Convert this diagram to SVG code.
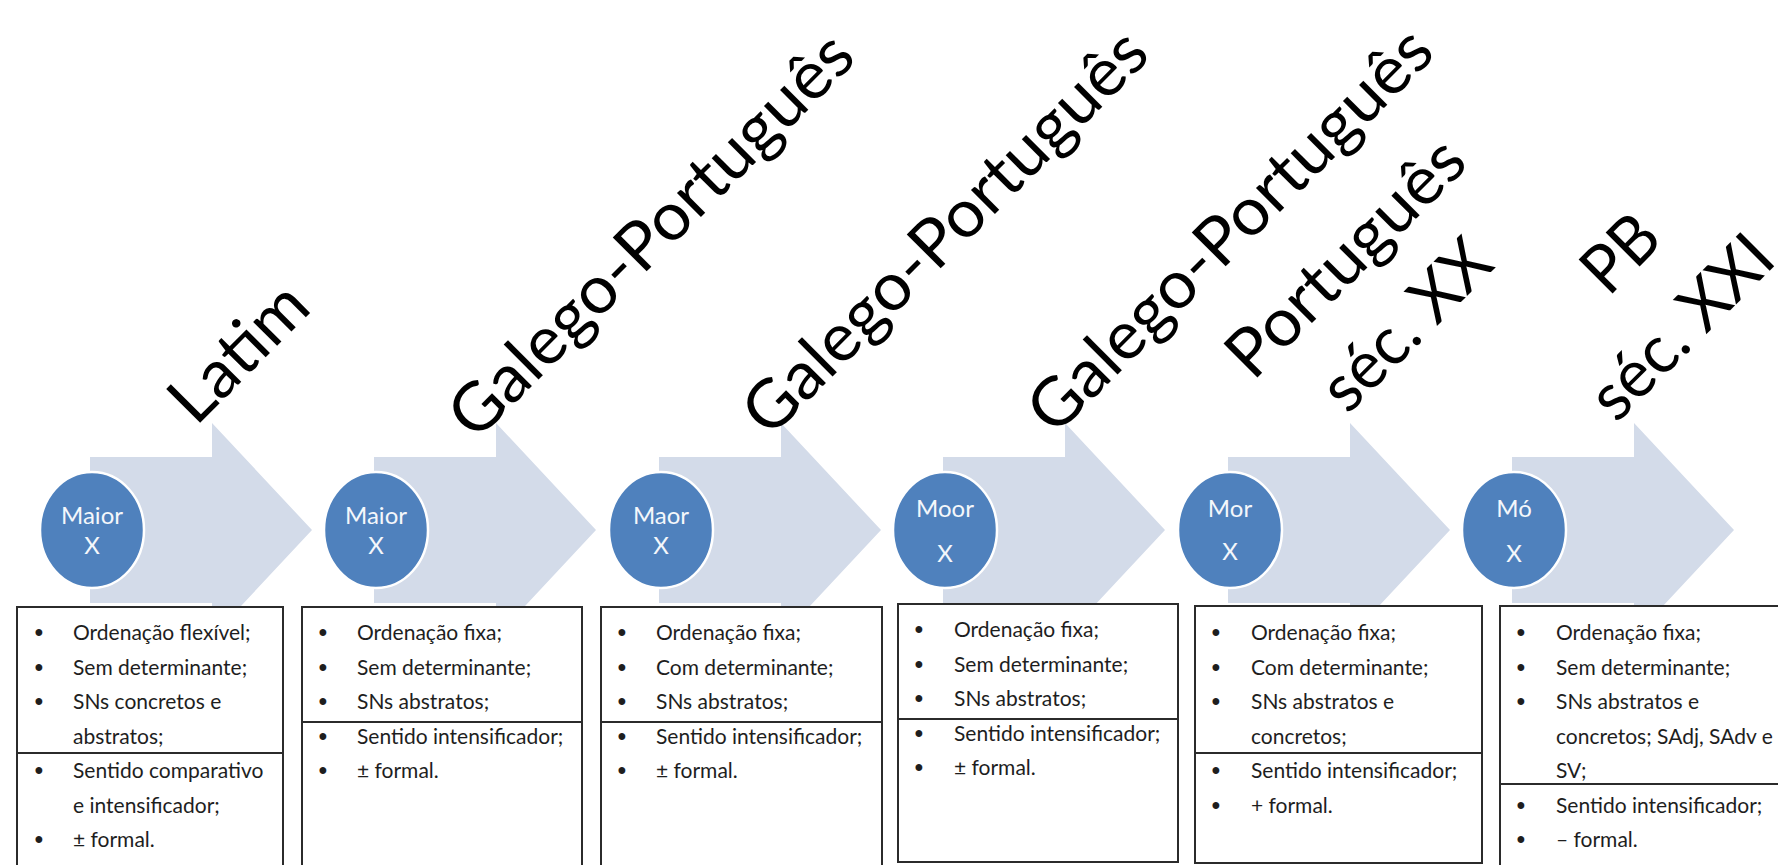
<svg xmlns="http://www.w3.org/2000/svg" width="1778" height="865" viewBox="0 0 1778 865">
<style>
.arrow{fill:#d3dbe9;stroke:none}
.dot{fill:#4f81bd;stroke:#ffffff;stroke-width:2.5}
.dl{font-family:Lato,"Liberation Sans",sans-serif;font-size:24px;fill:#f4f7fb;text-anchor:middle}
.title{font-family:Lato,"Liberation Sans",sans-serif;font-size:67px;fill:#000000;text-anchor:middle}
.box{fill:#ffffff;stroke:#2b2b2b;stroke-width:2}
.div{stroke:#2b2b2b;stroke-width:2}
.t{font-family:Lato,"Liberation Sans",sans-serif;font-size:21px;fill:#1e1e1e}
.b{font-family:"Liberation Sans",sans-serif;font-size:25px;fill:#1e1e1e;text-anchor:middle}
</style>
<g id="connectors">
<path class="arrow" d="M90,457 H212 V423 L312,530 L212,637 V603 H90 Z"/>
<path class="arrow" d="M374,457 H496 V423 L596,530 L496,637 V603 H374 Z"/>
<path class="arrow" d="M659,457 H781 V423 L881,530 L781,637 V603 H659 Z"/>
<path class="arrow" d="M943,457 H1065 V423 L1165,530 L1065,637 V603 H943 Z"/>
<path class="arrow" d="M1228,457 H1350 V423 L1450,530 L1350,637 V603 H1228 Z"/>
<path class="arrow" d="M1512,457 H1634 V423 L1734,530 L1634,637 V603 H1512 Z"/>
</g>
<g id="stage-1">
<text class="title" transform="translate(254.5,368.5) rotate(-45)" textLength="166" lengthAdjust="spacingAndGlyphs">Latim</text>
<ellipse class="dot" cx="92" cy="530" rx="52" ry="58"/>
<text class="dl" x="92" y="524">Maior</text>
<text class="dl" x="92" y="554">X</text>
<rect class="box" x="17" y="607" width="266" height="270"/>
<line class="div" x1="17" y1="753" x2="283" y2="753"/>
<text class="b" x="39" y="641">•</text><text class="t" x="73" y="640">Ordenação flexível;</text>
<text class="b" x="39" y="675.5">•</text><text class="t" x="73" y="674.5">Sem determinante;</text>
<text class="b" x="39" y="710">•</text><text class="t" x="73" y="709">SNs concretos e</text>
<text class="t" x="73" y="743.5">abstratos;</text>
<text class="b" x="39" y="779">•</text><text class="t" x="73" y="778">Sentido comparativo</text>
<text class="t" x="73" y="812.5">e intensificador;</text>
<text class="b" x="39" y="848">•</text><text class="t" x="73" y="847">± formal.</text>
</g>
<g id="stage-2">
<text class="title" transform="translate(667,251) rotate(-45)" textLength="541" lengthAdjust="spacingAndGlyphs">Galego-Português</text>
<ellipse class="dot" cx="376" cy="530" rx="52" ry="58"/>
<text class="dl" x="376" y="524">Maior</text>
<text class="dl" x="376" y="554">X</text>
<rect class="box" x="302" y="607" width="280" height="270"/>
<line class="div" x1="302" y1="722" x2="582" y2="722"/>
<text class="b" x="323" y="641">•</text><text class="t" x="357" y="640">Ordenação fixa;</text>
<text class="b" x="323" y="675.5">•</text><text class="t" x="357" y="674.5">Sem determinante;</text>
<text class="b" x="323" y="710">•</text><text class="t" x="357" y="709">SNs abstratos;</text>
<text class="b" x="323" y="744.5">•</text><text class="t" x="357" y="743.5">Sentido intensificador;</text>
<text class="b" x="323" y="779">•</text><text class="t" x="357" y="778">± formal.</text>
</g>
<g id="stage-3">
<text class="title" transform="translate(961,248) rotate(-45)" textLength="541" lengthAdjust="spacingAndGlyphs">Galego-Português</text>
<ellipse class="dot" cx="661" cy="530" rx="52" ry="58"/>
<text class="dl" x="661" y="524">Maor</text>
<text class="dl" x="661" y="554">X</text>
<rect class="box" x="601" y="607" width="281" height="270"/>
<line class="div" x1="601" y1="722" x2="882" y2="722"/>
<text class="b" x="622" y="641">•</text><text class="t" x="656" y="640">Ordenação fixa;</text>
<text class="b" x="622" y="675.5">•</text><text class="t" x="656" y="674.5">Com determinante;</text>
<text class="b" x="622" y="710">•</text><text class="t" x="656" y="709">SNs abstratos;</text>
<text class="b" x="622" y="744.5">•</text><text class="t" x="656" y="743.5">Sentido intensificador;</text>
<text class="b" x="622" y="779">•</text><text class="t" x="656" y="778">± formal.</text>
</g>
<g id="stage-4">
<text class="title" transform="translate(1246,246) rotate(-45)" textLength="541" lengthAdjust="spacingAndGlyphs">Galego-Português</text>
<ellipse class="dot" cx="945" cy="530" rx="52" ry="58"/>
<text class="dl" x="945" y="517">Moor</text>
<text class="dl" x="945" y="562">X</text>
<rect class="box" x="898" y="604" width="280" height="258"/>
<line class="div" x1="898" y1="719" x2="1178" y2="719"/>
<text class="b" x="919" y="638">•</text><text class="t" x="954" y="637">Ordenação fixa;</text>
<text class="b" x="919" y="672.5">•</text><text class="t" x="954" y="671.5">Sem determinante;</text>
<text class="b" x="919" y="707">•</text><text class="t" x="954" y="706">SNs abstratos;</text>
<text class="b" x="919" y="741.5">•</text><text class="t" x="954" y="740.5">Sentido intensificador;</text>
<text class="b" x="919" y="776">•</text><text class="t" x="954" y="775">± formal.</text>
</g>
<g id="stage-5">
<text class="title" transform="translate(1361.5,273.5) rotate(-45)" textLength="307" lengthAdjust="spacingAndGlyphs">Português</text>
<text class="title" transform="translate(1422,341) rotate(-45)" textLength="210" lengthAdjust="spacingAndGlyphs">séc. XX</text>
<ellipse class="dot" cx="1230" cy="530" rx="52" ry="58"/>
<text class="dl" x="1230" y="517">Mor</text>
<text class="dl" x="1230" y="560">X</text>
<rect class="box" x="1195" y="606" width="287" height="257"/>
<line class="div" x1="1195" y1="753" x2="1482" y2="753"/>
<text class="b" x="1216" y="641">•</text><text class="t" x="1251" y="640">Ordenação fixa;</text>
<text class="b" x="1216" y="675.5">•</text><text class="t" x="1251" y="674.5">Com determinante;</text>
<text class="b" x="1216" y="710">•</text><text class="t" x="1251" y="709">SNs abstratos e</text>
<text class="t" x="1251" y="743.5">concretos;</text>
<text class="b" x="1216" y="779">•</text><text class="t" x="1251" y="778">Sentido intensificador;</text>
<text class="b" x="1216" y="813.5">•</text><text class="t" x="1251" y="812.5">+ formal.</text>
</g>
<g id="stage-6">
<text class="title" transform="translate(1636.5,269.5) rotate(-45)" textLength="79" lengthAdjust="spacingAndGlyphs">PB</text>
<text class="title" transform="translate(1697.5,343) rotate(-45)" textLength="229" lengthAdjust="spacingAndGlyphs">séc. XXI</text>
<ellipse class="dot" cx="1514" cy="530" rx="52" ry="58"/>
<text class="dl" x="1514" y="517">Mó</text>
<text class="dl" x="1514" y="562">X</text>
<rect class="box" x="1500" y="606" width="300" height="270"/>
<line class="div" x1="1500" y1="784" x2="1778" y2="784"/>
<text class="b" x="1521" y="641">•</text><text class="t" x="1556" y="640">Ordenação fixa;</text>
<text class="b" x="1521" y="675.5">•</text><text class="t" x="1556" y="674.5">Sem determinante;</text>
<text class="b" x="1521" y="710">•</text><text class="t" x="1556" y="709">SNs abstratos e</text>
<text class="t" x="1556" y="743.5">concretos; SAdj, SAdv e</text>
<text class="t" x="1556" y="778">SV;</text>
<text class="b" x="1521" y="813.5">•</text><text class="t" x="1556" y="812.5">Sentido intensificador;</text>
<text class="b" x="1521" y="848">•</text><text class="t" x="1556" y="847">– formal.</text>
</g>
</svg>
